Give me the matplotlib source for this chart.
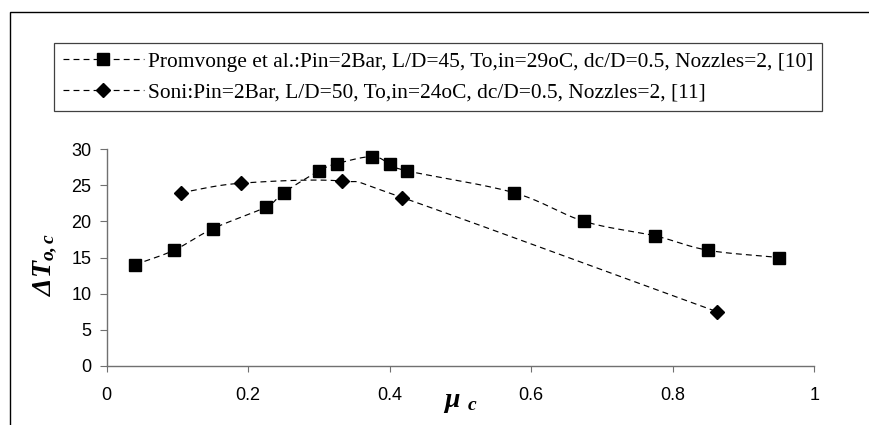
import numpy as np
import matplotlib
matplotlib.use("Agg")
import matplotlib.pyplot as plt
from matplotlib.patches import Rectangle

# data
promvonge_x = [0.04, 0.095, 0.15, 0.225, 0.25, 0.30, 0.325, 0.375, 0.40, 0.425,
               0.575, 0.675, 0.775, 0.85, 0.95]
promvonge_y = [14, 16, 19, 22, 24, 27, 28, 29, 28, 27, 24, 20, 18, 16, 15]
soni_x = [0.105, 0.19, 0.332, 0.418, 0.862]
soni_y = [24.0, 25.3, 25.6, 23.3, 7.5]

labels = ["Promvonge et al.:Pin=2Bar, L/D=45, To,in=29oC, dc/D=0.5, Nozzles=2, [10]",
          "Soni:Pin=2Bar, L/D=50, To,in=24oC, dc/D=0.5, Nozzles=2, [11]"]
x_ticks = [0, 0.2, 0.4, 0.6, 0.8, 1]
x_tick_labels = ["0", "0.2", "0.4", "0.6", "0.8", "1"]
y_ticks = [0, 5, 10, 15, 20, 25, 30]


def smooth(x, y, n=30):
    # Catmull-Rom style smoothing, like a spreadsheet "smoothed line"
    x = np.asarray(x, float)
    y = np.asarray(y, float)
    px = np.concatenate([[2 * x[0] - x[1]], x, [2 * x[-1] - x[-2]]])
    py = np.concatenate([[2 * y[0] - y[1]], y, [2 * y[-1] - y[-2]]])
    t = np.linspace(0, 1, n)
    xs, ys = [], []
    for i in range(1, len(px) - 2):
        for p, out in ((px, xs), (py, ys)):
            p0, p1, p2, p3 = p[i - 1], p[i], p[i + 1], p[i + 2]
            out.append(0.5 * (2 * p1 + (-p0 + p2) * t
                              + (2 * p0 - 5 * p1 + 4 * p2 - p3) * t ** 2
                              + (-p0 + 3 * p1 - 3 * p2 + p3) * t ** 3))
    return np.concatenate(xs), np.concatenate(ys)


plt.rcParams['mathtext.fontset'] = 'custom'
plt.rcParams['mathtext.rm'] = 'Liberation Serif:italic:bold'
plt.rcParams['mathtext.it'] = 'Liberation Serif:italic:bold'
plt.rcParams['mathtext.bf'] = 'Liberation Serif:italic:bold'

W, H = 870, 425
fig = plt.figure(figsize=(W / 100, H / 100), dpi=100)
ax = fig.add_axes([106.7 / W, 1 - 365.7 / H, (814.3 - 106.7) / W, (365.7 - 149.3) / H])

dash = (0, (5, 3.5))
sq_ms, dm_ms = 8.5, 7.0
for xs, ys, mk, ms in ((promvonge_x, promvonge_y, 's', sq_ms),
                       (soni_x, soni_y, 'D', dm_ms)):
    sx, sy = smooth(xs, ys)
    ax.plot(sx, sy, color='black', lw=0.85, linestyle=dash)
    ax.plot(xs, ys, linestyle='none', marker=mk, ms=ms, color='black')

ax.set_xlim(0, 1)
ax.set_ylim(0, 30)
ax.set_xticks(x_ticks)
ax.set_xticklabels(x_tick_labels)
ax.set_yticks(y_ticks)
for s in ('top', 'right'):
    ax.spines[s].set_visible(False)
for s in ('left', 'bottom'):
    ax.spines[s].set_color('#707070')
    ax.spines[s].set_linewidth(1.0)
ax.tick_params(axis='both', colors='#707070', labelcolor='black', labelsize=13)
ax.tick_params(axis='x', length=4, pad=11)
ax.tick_params(axis='y', length=5, pad=6)
for t in ax.get_xticklabels() + ax.get_yticklabels():
    t.set_fontfamily('Liberation Sans')

ax.set_ylabel(r'$\Delta T_{o,c}$', fontsize=20)
ax.yaxis.set_label_coords(-0.068, 0.47)
ax.set_xlabel(r'$\mu\ _c$', fontsize=20)
ax.xaxis.set_label_coords(0.5, -0.1)

# legend built from proxy handles (dashed line with marker in the middle)
h1, = ax.plot([], [], color='black', lw=0.85, linestyle=dash, marker='s', ms=sq_ms)
h2, = ax.plot([], [], color='black', lw=0.85, linestyle=dash, marker='D', ms=dm_ms)
leg = fig.legend([h1, h2], labels, loc='upper left',
                 bbox_to_anchor=(54 / W, 1 - 43 / H), frameon=True, fancybox=False,
                 framealpha=1, edgecolor='#404040', handlelength=3.8,
                 prop={'family': 'Liberation Serif', 'size': 15.4},
                 borderpad=0.4, labelspacing=0.5, handletextpad=0.2,
                 borderaxespad=0)
leg.get_frame().set_linewidth(0.9)

# outer chart border (cut off at right and bottom)
fig.patches.append(Rectangle((10.3 / W, -0.1), 1.0, 1.1 - 11.7 / H,
                             transform=fig.transFigure, fill=False,
                             edgecolor='black', lw=1.0))

fig.savefig('out.png', dpi=100)
